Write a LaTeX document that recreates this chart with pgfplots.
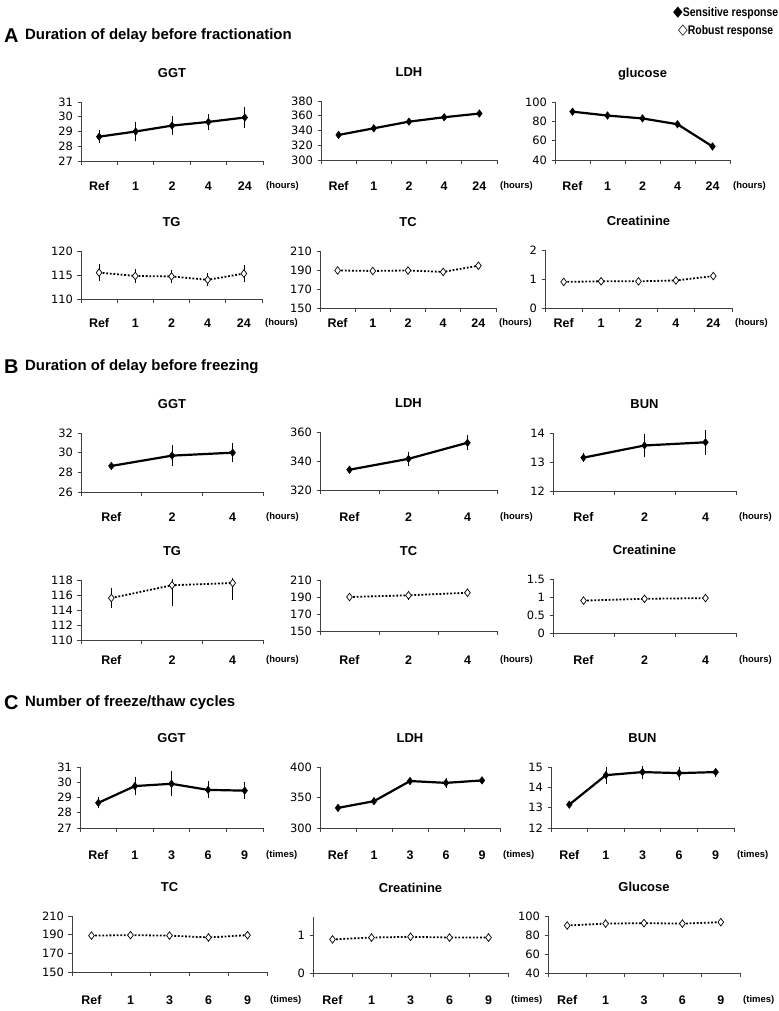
\documentclass[border=0pt]{standalone}
\usepackage{pgfplots}
\pgfplotsset{compat=1.18}
\usepackage{graphicx}
\usepackage{fontspec}
\setmainfont{Liberation Sans}
\newfontfamily\symfont{DejaVu Sans}
\newfontfamily\tickfont{DejaVu Sans}

\pgfplotsset{
  panel/.style={
    scale only axis, anchor=south west,
    axis x line*=bottom, axis y line*=left,
    axis line style={-, line width=0.7bp, black!75},
    tick style={line width=0.7bp, black!75},
    tick align=outside, major tick length=3.5bp,
    xticklabels={},
    extra x tick style={major tick length=0pt, tick label style={anchor=center, font=\bfseries\fontsize{12.5}{12.5}\selectfont}},
    yticklabel style={font=\tickfont\fontsize{11.5}{11.5}\selectfont, xshift=-1bp},
    /pgf/number format/assume math mode=true,
    title style={font=\bfseries\fontsize{13}{13}\selectfont, text height=1.5ex, text depth=0.25ex, yshift=14bp},
    clip=false,
  },
  unit/.style 2 args={
    extra x tick style={tick label style={yshift=-#2bp}},
    after end axis/.code={\node[anchor=west, inner sep=0pt, font=\bfseries\fontsize{9.5}{10}\selectfont, xshift=3bp, yshift=-#2bp] at (rel axis cs:1,0) {#1};}
  },
  catA/.style={xmin=0.5,xmax=5.5,xtick={0.5,1.5,2.5,3.5,4.5,5.5},extra x ticks={1,2,3,4,5},extra x tick labels={Ref,1,2,4,24}, unit={(hours)}{#1}},
  catB/.style={xmin=0.5,xmax=3.5,xtick={0.5,1.5,2.5,3.5},extra x ticks={1,2,3},extra x tick labels={Ref,2,4}, unit={(hours)}{#1}},
  catC/.style={xmin=0.5,xmax=5.5,xtick={0.5,1.5,2.5,3.5,4.5,5.5},extra x ticks={1,2,3,4,5},extra x tick labels={Ref,1,3,6,9}, unit={(times)}{#1}},
  sens/.style={black, line width=2.2bp, mark=diamond*, mark size=3.8bp, mark options={solid, line width=0.4bp}},
  rob/.style={black, line width=1.8bp, dash pattern=on 1.8bp off 1.8bp, mark=diamond*, mark size=3.8bp, mark options={solid, fill=white, line width=0.7bp}},
  err/.style={error bars/.cd, y dir=both, y explicit, error bar style={line width=0.8bp, solid, black}, error mark options={mark size=2.5bp, line width=0.8bp, solid, black}},
}

\begin{document}
\begin{tikzpicture}
\path (0,0) rectangle (777bp,-1011bp);

% legend
\node[anchor=west, inner sep=0pt, font=\bfseries\fontsize{12.5}{13}\selectfont] at (673bp,-13bp) {\scalebox{0.84}[1]{{\symfont\fontsize{15}{15}\selectfont ◆}Sensitive response}};
\node[anchor=west, inner sep=0pt, font=\bfseries\fontsize{12.5}{13}\selectfont] at (678bp,-31bp) {\scalebox{0.84}[1]{{\symfont\fontsize{15}{15}\selectfont ◇}Robust response}};

% section headers
\node[anchor=west, inner sep=0pt, font=\bfseries\fontsize{20}{20}\selectfont] at (4bp,-36bp) {A};
\node[anchor=west, inner sep=0pt, font=\bfseries\fontsize{15}{15}\selectfont] at (25bp,-36bp) {Duration of delay before fractionation};
\node[anchor=west, inner sep=0pt, font=\bfseries\fontsize{20}{20}\selectfont] at (4bp,-367bp) {B};
\node[anchor=west, inner sep=0pt, font=\bfseries\fontsize{15}{15}\selectfont] at (25bp,-367bp) {Duration of delay before freezing};
\node[anchor=west, inner sep=0pt, font=\bfseries\fontsize{20}{20}\selectfont] at (4bp,-703bp) {C};
\node[anchor=west, inner sep=0pt, font=\bfseries\fontsize{15}{15}\selectfont] at (25bp,-703bp) {Number of freeze/thaw cycles};

% ===== A row 1 =====
\begin{axis}[panel, catA=25, at={(81bp,-161bp)}, width=182bp, height=59bp, title=GGT, ymin=27, ymax=31, ytick={27,28,29,30,31}]
\addplot[sens, err] coordinates {(1,28.65) +- (0,0.25) (2,29.0) +- (0,0.5) (3,29.4) +- (0,0.45) (4,29.65) +- (0,0.35) (5,29.95) +- (0,0.55)};
\end{axis}
\begin{axis}[panel, catA=26, at={(321bp,-160bp)}, width=176bp, height=59bp, title=LDH, ymin=300, ymax=380, ytick={300,320,340,360,380}]
\addplot[sens] coordinates {(1,334) (2,343) (3,352) (4,358) (5,363)};
\end{axis}
\begin{axis}[panel, catA=26, at={(555bp,-160bp)}, width=175bp, height=58bp, title=glucose, ymin=40, ymax=100, ytick={40,60,80,100}]
\addplot[sens] coordinates {(1,90) (2,86) (3,83) (4,77) (5,54)};
\end{axis}

% ===== A row 2 =====
\begin{axis}[panel, catA=24, at={(81bp,-299bp)}, width=181bp, height=48bp, title=TG, ymin=110, ymax=120, ytick={110,115,120}]
\addplot[rob, err] coordinates {(1,115.5) +- (0,1.2) (2,114.8) +- (0,0.9) (3,114.7) +- (0,0.8) (4,114.0) +- (0,0.8) (5,115.3) +- (0,1.3)};
\end{axis}
\begin{axis}[panel, catA=15, at={(320bp,-308bp)}, width=176bp, height=57bp, title=TC, ymin=150, ymax=210, ytick={150,170,190,210}]
\addplot[rob] coordinates {(1,189.5) (2,189) (3,189.5) (4,188) (5,194.5)};
\end{axis}
\begin{axis}[panel, catA=15, at={(545bp,-308bp)}, width=187bp, height=58bp, title=Creatinine, ymin=0, ymax=2, ytick={0,1,2}]
\addplot[rob] coordinates {(1,0.9) (2,0.92) (3,0.92) (4,0.95) (5,1.1)};
\end{axis}

% ===== B row 1 =====
\begin{axis}[panel, catB=25, at={(81bp,-492bp)}, width=182bp, height=59bp, title=GGT, ymin=26, ymax=32, ytick={26,28,30,32}]
\addplot[sens, err] coordinates {(1,28.65) +- (0,0.12) (2,29.7) +- (0,0.8) (3,30.0) +- (0,0.7)};
\end{axis}
\begin{axis}[panel, catB=27, at={(320bp,-490bp)}, width=177bp, height=58bp, title=LDH, ymin=320, ymax=360, ytick={320,340,360}]
\addplot[sens, err] coordinates {(1,334) +- (0,0.8) (2,341.5) +- (0,3.2) (3,352.6) +- (0,3.4)};
\end{axis}
\begin{axis}[panel, catB=26, at={(553bp,-491bp)}, width=183bp, height=58bp, title=BUN, ymin=12, ymax=14, ytick={12,13,14}]
\addplot[sens, err] coordinates {(1,13.15) +- (0,0.06) (2,13.57) +- (0,0.32) (3,13.68) +- (0,0.35)};
\end{axis}

% ===== B row 2 =====
\begin{axis}[panel, catB=20, at={(81bp,-640bp)}, width=182bp, height=60bp, title=TG, ymin=110, ymax=118, ytick={110,112,114,116,118}]
\addplot[rob, err] coordinates {(1,115.6) +- (0,1.0) (2,117.3) += (0,0.5) -= (0,2.4) (3,117.6) += (0,0.3) -= (0,1.9)};
\end{axis}
\begin{axis}[panel, catB=29, at={(320bp,-631bp)}, width=177bp, height=51bp, title=TC, ymin=150, ymax=210, ytick={150,170,190,210}]
\addplot[rob, err] coordinates {(1,190) +- (0,1.5) (2,192) +- (0,2.5) (3,195) +- (0,2)};
\end{axis}
\begin{axis}[panel, catB=27, at={(553bp,-633bp)}, width=183bp, height=54bp, title=Creatinine, ymin=0, ymax=1.5, ytick={0,0.5,1,1.5}]
\addplot[rob] coordinates {(1,0.9) (2,0.95) (3,0.97)};
\end{axis}

% ===== C row 1 =====
\begin{axis}[panel, catC=27, at={(80bp,-828bp)}, width=183bp, height=61bp, title=GGT, ymin=27, ymax=31, ytick={27,28,29,30,31}]
\addplot[sens, err] coordinates {(1,28.65) +- (0,0.2) (2,29.75) +- (0,0.45) (3,29.9) +- (0,0.65) (4,29.5) +- (0,0.4) (5,29.45) +- (0,0.4)};
\end{axis}
\begin{axis}[panel, catC=27, at={(320bp,-828bp)}, width=180bp, height=61bp, title=LDH, ymin=300, ymax=400, ytick={300,350,400}]
\addplot[sens, err] coordinates {(1,333) +- (0,1) (2,344) +- (0,1) (3,377) +- (0,1.5) (4,374) +- (0,4) (5,378) +- (0,2)};
\end{axis}
\begin{axis}[panel, catC=27, at={(551bp,-828bp)}, width=183bp, height=61bp, title=BUN, ymin=12, ymax=15, ytick={12,13,14,15}]
\addplot[sens, err] coordinates {(1,13.15) +- (0,0.05) (2,14.6) +- (0,0.3) (3,14.75) +- (0,0.2) (4,14.7) +- (0,0.2) (5,14.75) +- (0,0.1)};
\end{axis}

% ===== C row 2 =====
\begin{axis}[panel, catC=28, at={(72bp,-972bp)}, width=195bp, height=56bp, title=TC, ymin=150, ymax=210, ytick={150,170,190,210}]
\addplot[rob] coordinates {(1,189) (2,189.5) (3,189) (4,187) (5,189.5)};
\end{axis}
\begin{axis}[panel, catC=27, at={(313bp,-973bp)}, width=195bp, height=56bp, title=Creatinine, ymin=0, ymax=1.5, ytick={0,1}]
\addplot[rob] coordinates {(1,0.9) (2,0.95) (3,0.97) (4,0.95) (5,0.95)};
\end{axis}
\begin{axis}[panel, catC=27, at={(548bp,-973bp)}, width=192bp, height=57bp, title=Glucose, ymin=40, ymax=100, ytick={40,60,80,100}]
\addplot[rob] coordinates {(1,90) (2,92) (3,92.5) (4,92) (5,93.5)};
\end{axis}
\end{tikzpicture}
\end{document}
